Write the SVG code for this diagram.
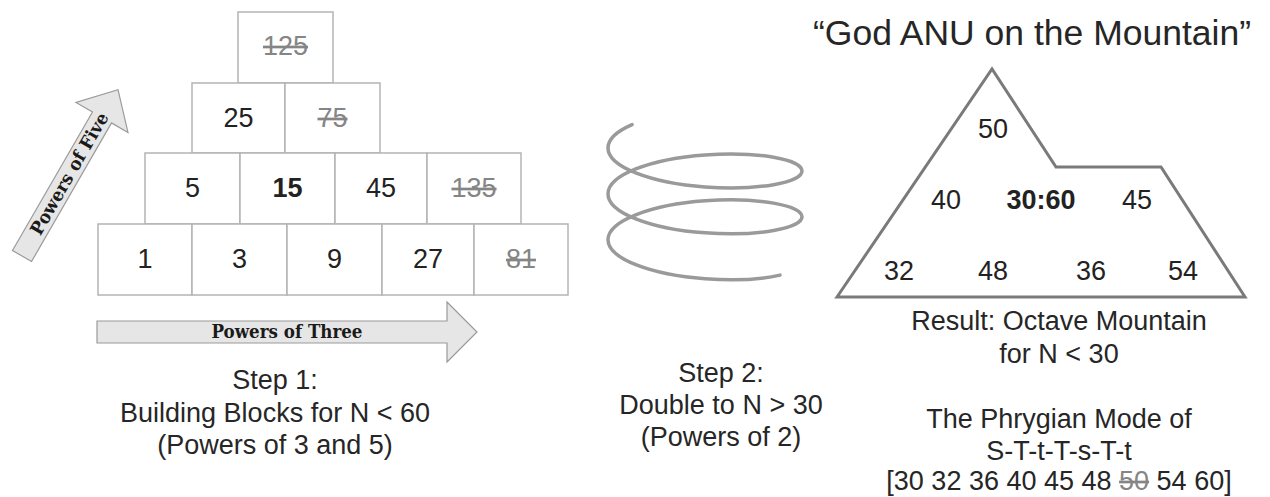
<svg xmlns="http://www.w3.org/2000/svg" width="1270" height="497" viewBox="0 0 1270 497">
  <style>
    .box { fill: #ffffff; stroke: #b4b4b4; stroke-width: 1.5; }
    .num { font-family: "Liberation Sans", Arial, sans-serif; font-size: 27px; fill: #222222; text-anchor: middle; }
    .bold { font-weight: bold; }
    .struck { fill: #858585; text-decoration: line-through; }
    .arrow { fill: #e6e6e6; stroke: #9a9a9a; stroke-width: 1.2; stroke-linejoin: miter; }
    .alabel { font-family: "DejaVu Serif", "Liberation Serif", serif; font-weight: bold; font-size: 18px; fill: #1a1a1a; text-anchor: middle; }
    .cap { font-family: "Liberation Sans", Arial, sans-serif; font-size: 27px; fill: #262626; text-anchor: middle; }
    .mountain { fill: #ffffff; stroke: #7a7a7a; stroke-width: 3; stroke-linejoin: miter; }
    .coil { fill: none; stroke: #9a9a9a; stroke-width: 3.5; stroke-linecap: round; }
  </style>

  <!-- Building-block pyramid: powers of 3 along rows, powers of 5 upward -->
  <g id="pyramid">
    <g id="b125"><rect class="box" x="238" y="12" width="95" height="71"/><text class="num struck" x="285.5" y="55">125</text></g>

    <g id="b25"><rect class="box" x="192" y="83" width="93" height="70"/><text class="num" x="238.5" y="127">25</text></g>
    <g id="b75"><rect class="box" x="285" y="83" width="95" height="70"/><text class="num struck" x="332.5" y="127">75</text></g>

    <g id="b5"><rect class="box" x="145" y="153" width="95" height="71"/><text class="num" x="192.5" y="197">5</text></g>
    <g id="b15"><rect class="box" x="240" y="153" width="95" height="71"/><text class="num bold" x="287.5" y="197">15</text></g>
    <g id="b45"><rect class="box" x="335" y="153" width="92" height="71"/><text class="num" x="381" y="197">45</text></g>
    <g id="b135"><rect class="box" x="427" y="153" width="94" height="71"/><text class="num struck" x="474" y="197">135</text></g>

    <g id="b1"><rect class="box" x="98" y="224" width="94" height="71"/><text class="num" x="145" y="268">1</text></g>
    <g id="b3"><rect class="box" x="192" y="224" width="95" height="71"/><text class="num" x="239.5" y="268">3</text></g>
    <g id="b9"><rect class="box" x="287" y="224" width="95" height="71"/><text class="num" x="334.5" y="268">9</text></g>
    <g id="b27"><rect class="box" x="382" y="224" width="92" height="71"/><text class="num" x="428" y="268">27</text></g>
    <g id="b81"><rect class="box" x="474" y="224" width="94" height="71"/><text class="num struck" x="521" y="268">81</text></g>
  </g>

  <!-- Axis arrows -->
  <g id="connectors">
    <g id="arrow-five" transform="translate(22,256) rotate(-60)">
      <path class="arrow" d="M0,-11 H160 V-30 L192,0 L160,30 V11 H0 Z"/>
      <text class="alabel" x="95" y="6" textLength="138" lengthAdjust="spacingAndGlyphs">Powers of Five</text>
    </g>
    <g id="arrow-three">
      <path class="arrow" d="M97,321 H447 V302 L477,332 L447,362 V343 H97 Z"/>
      <text class="alabel" x="287" y="338" textLength="151" lengthAdjust="spacingAndGlyphs">Powers of Three</text>
    </g>
  </g>

  <!-- Coil: doubling by powers of 2 -->
  <g id="coil">
    <path class="coil" d="M632.07,124.61
      C616.55,131.38 608,139.58 608,148
      C608,167.01 651.43,183.15 705,186.97
      C758.57,190.79 802,182.31 802,170.94
      C802,159.57 758.57,151.09 705,154.91
      C651.43,158.73 608,174.87 608,193.88
      C608,212.89 651.43,229.03 705,232.85
      C758.57,236.67 802,228.19 802,216.82
      C802,205.45 758.57,196.97 705,200.79
      C651.43,204.61 608,220.75 608,239.76
      C608,258.77 651.43,274.91 705,278.73
      C734.06,280.88 761.57,279.32 780,275.1"/>
  </g>

  <!-- Octave mountain -->
  <g id="mountain">
    <path class="mountain" d="M837,297 L992,69 L1056,167 L1161,167 L1245,297 Z"/>
    <text class="num" x="993" y="138">50</text>
    <text class="num" x="946" y="209">40</text>
    <text class="num bold" x="1041" y="209">30:60</text>
    <text class="num" x="1137" y="209">45</text>
    <text class="num" x="899" y="280">32</text>
    <text class="num" x="993" y="280">48</text>
    <text class="num" x="1091" y="280">36</text>
    <text class="num" x="1183" y="280">54</text>
  </g>

  <g id="title">
    <text class="cap" x="1032" y="45" style="font-size:35.5px">“God ANU on the Mountain”</text>
  </g>

  <g id="step1">
    <text class="cap" x="275" y="389">Step 1:</text>
    <text class="cap" x="275" y="422">Building Blocks for N &lt; 60</text>
    <text class="cap" x="275" y="454">(Powers of 3 and 5)</text>
  </g>

  <g id="step2">
    <text class="cap" x="721" y="382">Step 2:</text>
    <text class="cap" x="721" y="414">Double to N &gt; 30</text>
    <text class="cap" x="721" y="446">(Powers of 2)</text>
  </g>

  <g id="result">
    <text class="cap" x="1059" y="330">Result: Octave Mountain</text>
    <text class="cap" x="1059" y="363">for N &lt; 30</text>
    <text class="cap" x="1059" y="428">The Phrygian Mode of</text>
    <text class="cap" x="1059" y="460">S-T-t-T-s-T-t</text>
    <text class="cap" x="1059" y="490">[30 32 36 40 45 48 <tspan class="struck">50</tspan> 54 60]</text>
  </g>
</svg>
